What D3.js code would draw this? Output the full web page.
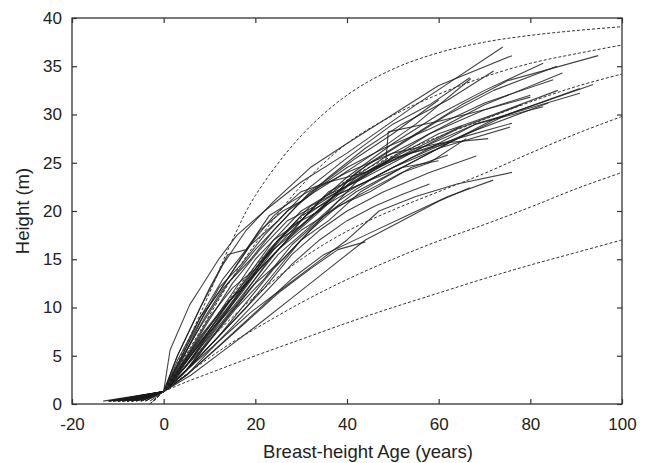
<!DOCTYPE html>
<html>
<head>
<meta charset="utf-8">
<script src="https://cdn.jsdelivr.net/npm/d3@7"></script>
<style>
  body { margin: 0; background: #fff; }
  svg text { font-family: "Liberation Sans", Arial, sans-serif; fill: #222; }
</style>
</head>
<body>
<svg id="chart"></svg>
<script>
// tick labels
const xTicks = [-20, 0, 20, 40, 60, 80, 100];
const yTicks = [0, 5, 10, 15, 20, 25, 30, 35, 40];

// site index reference curves (dashed)
const curveAges = [-3, 0, 5, 10, 15, 20, 30, 40, 50, 60, 70, 80, 90, 100];
const siteCurves = [
  [0, 1.3, 6.2, 11.5, 17.0, 21.6, 27.8, 32.0, 34.7, 36.4, 37.5, 38.2, 38.7, 39.1],
  [0, 1.3, 5.2, 9.2, 13.1, 16.6, 22.6, 27.0, 29.9, 32.1, 33.9, 35.3, 36.3, 37.2],
  [0, 1.3, 4.7, 8.0, 11.3, 14.3, 19.3, 23.2, 25.7, 27.7, 29.5, 31.3, 32.9, 34.2],
  [0, 1.3, 4.0, 6.6, 9.0, 11.2, 15.0, 17.9, 20.1, 22.0, 23.9, 26.0, 28.0, 29.8],
  [0, 1.3, 3.1, 4.8, 6.4, 7.8, 10.5, 12.9, 15.0, 16.9, 18.6, 20.4, 22.3, 24.0],
  [0, 1.3, 2.3, 3.2, 4.1, 5.0, 6.7, 8.4, 10.0, 11.5, 13.0, 14.4, 15.7, 17.0]
];

// observed stem analysis profiles: [age, height]
const trees = [
  [[-6,0.3],[0,1.3],[1.4,5.6],[5.7,10.3],[8,12],[12,15],[16,17.5],[22,20],[30,23],[40,26],[55,31],[74,37]],
  [[-9,0.3],[0,1.3],[3,5],[8,10],[13,14.5],[18,18],[24,21],[32,24.5],[40,27],[50,30],[60,33],[76,36.1]],
  [[-11,0.3],[0,1.3],[4,4],[10,8],[15,11.5],[20,15],[25,17.5],[30,20],[37,22],[45,25],[55,28],[65,31],[75,33.5],[94.8,36.1]],
  [[-7,0.3],[0,1.3],[4,3.5],[10,7],[16,11],[22,15],[28,18],[34,21],[40,23.5],[50,27],[60,30],[70,32.5],[82.8,35.3]],
  [[-10,0.3],[0,1.3],[5,4],[11,8],[17,12],[23,16],[30,19.5],[36,21],[42,24],[52,27],[62,30],[72,32.5],[85.8,35]],
  [[-5,0.3],[0,1.3],[3,3.5],[9,7.5],[15,11],[21,14],[27,17],[33,19.5],[40,22.5],[48,25],[58,28],[70,31],[87,34.3]],
  [[-12,0.3],[0,1.3],[5,3.5],[12,7],[18,10.5],[24,14],[30,17],[36,19],[43,22],[52,24.5],[62,27],[75,30],[93.7,33.1]],
  [[-8,0.3],[0,1.3],[4,3],[10,6.5],[16,10],[22,13],[28,16.5],[35,19.5],[42,22],[50,24],[60,26.5],[72,29.5],[90.8,32.7]],
  [[-13.2,0.3],[0,1.3],[6,4],[13,8.5],[19,12],[25,15.5],[31,18],[38,21],[46,23.5],[56,26],[68,29],[90.8,32.2]],
  [[-6,0.3],[0,1.3],[5,4.5],[11,8],[17,11.5],[24,16],[30,18.5],[37,21.5],[44,23],[54,25.5],[66,28],[83.9,31.2]],
  [[-9,0.3],[0,1.3],[4,4],[9,7],[14,10.5],[20,14],[26,17.5],[32,20.5],[38,22],[46,24.5],[56,26.5],[68,29],[82.8,30.8]],
  [[-4,0.3],[0,1.3],[6,5],[12,9],[18,13],[24,17],[30,19],[36,22],[44,24],[54,26],[64,27.5],[76,29.1]],
  [[-10,0.3],[0,1.3],[5,3.5],[11,7.5],[17,11],[23,15],[29,18],[35,20.5],[42,22.5],[50,24.5],[60,26.5],[75.6,28.7]],
  [[-5,0.3],[0,1.3],[3,4],[8,8],[14,12.5],[20,16],[26,19],[32,22],[40,24],[50,26],[60,27],[70.8,27.5]],
  [[-8,0.3],[0,1.3],[4,3],[10,6],[16,9],[22,12],[28,15.5],[34,18],[40,20],[48,22],[58,24],[68.2,25.7]],
  [[-12,0.3],[0,1.3],[6,3],[13,5.5],[20,8],[28,11],[36,14],[44,17],[52,19],[60,21],[66.8,22.4]],
  [[-11,0.3],[0,1.3],[5,3.5],[12,6.5],[19,9.5],[26,12],[33,14.5],[40,17],[47,20],[55,21.5],[64,22.8],[76,24]],
  [[-7,0.3],[0,1.3],[5,3],[12,6],[20,9.5],[28,13],[35,15.5],[44,17.5],[53,19.5],[62,21.5],[71.9,23.2]],
  [[-6,0.3],[0,1.3],[3,4.5],[8,9],[13,13],[18,16],[23,19.5],[28,21],[35,23],[42,25.5],[50,28],[60,31.5]],
  [[-9,0.3],[0,1.3],[4,5],[9,9.5],[14,13],[19,16.5],[25,19],[32,22.5],[40,25.5],[50,29],[58,31],[66.8,33.8]],
  [[-5,0.3],[0,1.3],[3,5],[7,9],[10,12],[14,15.5],[18,16],[24,19.5],[30,22],[36,23],[44,24],[48.5,25.3],[49,28.2],[60,29.3],[70,30.5],[80,31.8]],
  [[-10,0.3],[0,1.3],[5,4],[10,7.5],[15,10],[20,13],[25,16],[30,18],[35,19.5],[40,21],[46,22.5],[52,24],[58,25],[66,27.5]],
  [[-4,0.3],[0,1.3],[4,3.5],[9,6],[14,9],[20,12.5],[26,15],[32,18],[38,20.5],[45,22],[54,24.5],[62,25.8]],
  [[-7,0.3],[0,1.3],[5,5],[10,9],[15,12],[20,14],[25,17],[30,18.5],[36,21],[42,23.5],[50,25.5],[62,27]],
  [[-8,0.3],[0,1.3],[6,4.5],[12,8.5],[18,12.5],[22,15],[28,18.5],[34,20],[40,23],[48,25.5],[58,28],[70,30.5],[80,32]],
  [[-6,0.3],[0,1.3],[3,3],[8,6.5],[14,10],[20,13.5],[26,16.5],[30,19],[35,21.5],[42,23],[52,25.5],[64,28.5],[78,31]],
  [[-11,0.3],[0,1.3],[5,3],[10,5.5],[16,8.5],[22,11.5],[28,14.5],[34,17],[40,19],[46,20.5],[52,21.7],[58,22.8]],
  [[-5,0.3],[0,1.3],[4,4.5],[8,8.5],[12,12],[17,14.5],[22,17.5],[27,20],[33,22],[38,23.5],[46,26],[55,29],[67,33.7]],
  [[-9,0.3],[0,1.3],[5,5.5],[9,9],[13,12],[19,15],[24,18],[29,20.5],[34,22.5],[40,24.5],[48,26.5],[58,28.5],[70,31.2],[85,33.6]],
  [[-3,0.3],[0,1.3],[4,4],[8,7],[13,10],[19,13],[25,17],[31,19.5],[37,21.5],[44,23],[52,24.5],[60,25.2]],
  [[-12,0.3],[0,1.3],[6,4],[12,7],[18,10],[24,13.5],[30,17],[36,20],[42,23],[50,25.5],[60,28],[72,30],[86,32.5]],
  [[-7,0.3],[0,1.3],[4,4],[9,8],[15,12.5],[21,16],[27,19],[33,20.5],[38,22],[45,24],[55,26.5],[65,28.8]],
  [[-10,0.3],[0,1.3],[5,3],[11,5.5],[18,8.5],[25,11.5],[32,14],[38,16],[44,16.8]],
  [[-8,0.3],[0,1.3],[4,5],[8,9],[12,11.5],[16,14.5],[21,18],[26,20],[30,21],[36,23.5],[44,26.5],[52,29],[62,31.5],[72,34.5]]
];

const width = 645, height = 463;
const margin = { top: 18, right: 23, bottom: 59, left: 72 };

const svg = d3.select("#chart")
  .attr("width", width)
  .attr("height", height);

const x = d3.scaleLinear().domain([-20, 100]).range([margin.left, width - margin.right]);
const y = d3.scaleLinear().domain([0, 40]).range([height - margin.bottom, margin.top]);

// observed profiles
const treeLine = d3.line().x(d => x(d[0])).y(d => y(d[1]));
svg.append("g")
  .selectAll("path")
  .data(trees)
  .join("path")
  .attr("d", treeLine)
  .attr("fill", "none")
  .attr("stroke", "#1a1a1a")
  .attr("stroke-opacity", 0.82)
  .attr("stroke-width", 1.1)
  .attr("stroke-linejoin", "round");

// site curves: straight below breast height, smooth above
const siteLine = d3.line()
  .x(d => x(d[0]))
  .y(d => y(d[1]))
  .curve(d3.curveCatmullRom.alpha(0.5));
svg.append("g")
  .selectAll("path")
  .data(siteCurves)
  .join("path")
  .attr("d", c => {
    const pts = c.map((v, i) => [curveAges[i], v]);
    return d3.line().x(d => x(d[0])).y(d => y(d[1]))(pts.slice(0, 2)) + siteLine(pts.slice(1));
  })
  .attr("fill", "none")
  .attr("stroke", "#333")
  .attr("stroke-width", 1)
  .attr("stroke-dasharray", "3,2");

// axes, ticks pointing inward, mirrored on top and right
const tickLen = 5;
const plain = d => String(d);
svg.append("g")
  .attr("transform", `translate(0,${y(0)})`)
  .call(d3.axisBottom(x).tickValues(xTicks).tickSize(-tickLen).tickPadding(14).tickFormat(plain))
  .call(g => g.select(".domain").remove());
svg.append("g")
  .attr("transform", `translate(0,${y(40)})`)
  .call(d3.axisTop(x).tickValues(xTicks).tickSize(-tickLen).tickFormat(""))
  .call(g => g.select(".domain").remove());
svg.append("g")
  .attr("transform", `translate(${x(-20)},0)`)
  .call(d3.axisLeft(y).tickValues(yTicks).tickSize(-tickLen).tickPadding(10).tickFormat(plain))
  .call(g => g.select(".domain").remove());
svg.append("g")
  .attr("transform", `translate(${x(100)},0)`)
  .call(d3.axisRight(y).tickValues(yTicks).tickSize(-tickLen).tickFormat(""))
  .call(g => g.select(".domain").remove());

svg.selectAll(".tick line").attr("stroke", "#333").attr("stroke-width", 1.2);
svg.selectAll(".tick text")
  .attr("font-size", 17)
  .attr("font-family", "Liberation Sans, Arial, sans-serif")
  .attr("fill", "#222");

// frame
svg.append("rect")
  .attr("x", x(-20)).attr("y", y(40))
  .attr("width", x(100) - x(-20)).attr("height", y(0) - y(40))
  .attr("fill", "none")
  .attr("stroke", "#333")
  .attr("stroke-width", 1.3);

svg.append("text")
  .attr("x", 368).attr("y", 458)
  .attr("text-anchor", "middle")
  .attr("font-size", 18.5)
  .text("Breast-height Age (years)");

svg.append("text")
  .attr("transform", `translate(29,${(y(0) + y(40)) / 2}) rotate(-90)`)
  .attr("text-anchor", "middle")
  .attr("font-size", 18.5)
  .text("Height (m)");
</script>
</body>
</html>
